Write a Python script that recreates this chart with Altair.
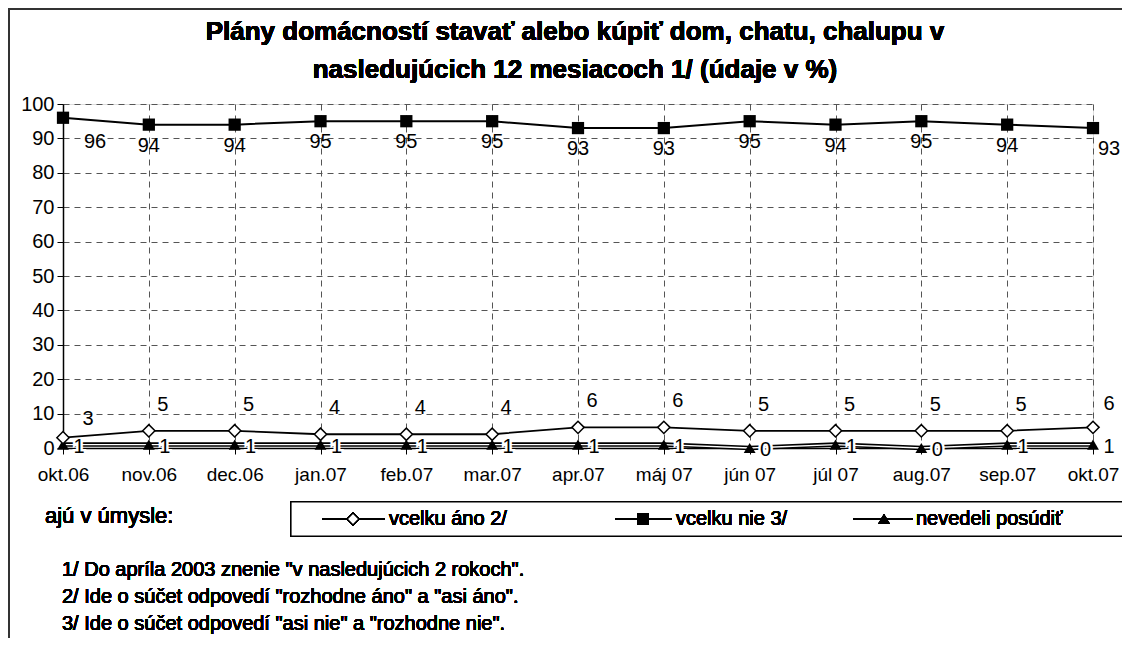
import altair as alt
import pandas as pd

months = ["okt.06", "nov.06", "dec.06", "jan.07", "feb.07", "mar.07", "apr.07",
          "máj 07", "jún 07", "júl 07", "aug.07", "sep.07", "okt.07"]
ano = [3, 5, 5, 4, 4, 4, 6, 6, 5, 5, 5, 5, 6]
nie = [96, 94, 94, 95, 95, 95, 93, 93, 95, 94, 95, 94, 93]
nevedeli = [1, 1, 1, 1, 1, 1, 1, 1, 0, 1, 0, 1, 1]

series_names = ["vcelku áno 2/", "vcelku nie 3/", "nevedeli posúdiť"]
title_lines = ["Plány domácností stavať alebo kúpiť dom, chatu, chalupu v",
               "nasledujúcich 12 mesiacoch 1/ (údaje v %)"]
notes = ["1/ Do apríla 2003 znenie \"v nasledujúcich 2 rokoch\".",
         "2/ Ide o súčet odpovedí \"rozhodne áno\" a \"asi áno\".",
         "3/ Ide o súčet odpovedí \"asi nie\" a \"rozhodne nie\"."]
cut_text = "ajú v úmysle:"

FONT = "Liberation Sans"
FS = 20
n = len(months)

df = pd.DataFrame({
    "m": months, "i": list(range(n)),
    "ano": ano, "nie": nie, "nev": nevedeli,
})

W, H = 1030, 344

x = alt.X("m:O", sort=months, scale=alt.Scale(type="point", padding=0),
          axis=alt.Axis(title=None, labelAngle=0, labelFontSize=19, labelFont=FONT,
                        labelColor="black", labelPadding=11, tickSize=6, tickColor="black",
                        domainColor="black", domainWidth=1.5, grid=True,
                        gridDash=[6, 5], gridColor="#555", gridWidth=1))

yaxis = alt.Axis(title=None, values=list(range(0, 101, 10)), labelFontSize=FS,
                 labelFont=FONT, labelColor="black", labelPadding=3, tickSize=6,
                 tickColor="black", domainColor="black", domainWidth=1.5,
                 grid=True, gridDash=[6, 5], gridColor="#555", gridWidth=1)

def yenc(field):
    return alt.Y(f"{field}:Q", scale=alt.Scale(domain=[0, 100], nice=False), axis=yaxis)

base = alt.Chart(df)

frame = base.mark_rect(filled=False, stroke="#333", strokeWidth=2).encode(
    x=alt.value(-54), x2=alt.value(1100), y=alt.value(-95), y2=alt.value(700))

# vcelku nie
nie_line = base.mark_line(color="black", strokeWidth=2).encode(x=x, y=yenc("nie"))
nie_pts = base.mark_point(shape="square", filled=True, color="black", size=150, opacity=1).encode(
    x=x, y=yenc("nie"))
nie_lab_mid = base.transform_filter("datum.i > 0 && datum.i < 12").mark_text(
    fontSize=FS, font=FONT, dy=21, fill="black").encode(x=x, y=yenc("nie"), text="nie:Q")
nie_lab_first = base.transform_filter("datum.i == 0").mark_text(
    fontSize=FS, font=FONT, dy=24, dx=32, fill="black").encode(x=x, y=yenc("nie"), text="nie:Q")
nie_lab_last = base.transform_filter("datum.i == 12").mark_text(
    fontSize=FS, font=FONT, dy=21, dx=16, fill="black").encode(x=x, y=yenc("nie"), text="nie:Q")

# nevedeli (double line look)
nev_line = base.mark_line(color="black", strokeWidth=4.5).encode(x=x, y=yenc("nev"))
nev_line_in = base.mark_line(color="white", strokeWidth=1.3).encode(x=x, y=yenc("nev"))
nev_halo = base.mark_text(fontSize=FS, font=FONT, dx=16, dy=2, stroke="white", strokeWidth=5,
                          fill="white").encode(x=x, y=yenc("nev"), text="nev:Q")
nev_lab = base.mark_text(fontSize=FS, font=FONT, dx=16, dy=2, fill="black").encode(
    x=x, y=yenc("nev"), text="nev:Q")
nev_pts = base.mark_point(shape="triangle-up", filled=True, color="black", size=140, opacity=1).encode(
    x=x, y=yenc("nev"))

# vcelku áno
ano_line = base.mark_line(color="black", strokeWidth=1.8).encode(x=x, y=yenc("ano"))
ano_pts = base.mark_point(shape="diamond", filled=True, fill="white", stroke="black",
                          strokeWidth=1.5, size=150, opacity=1).encode(x=x, y=yenc("ano"))
ano_lab_mid = base.transform_filter("datum.i > 0 && datum.i < 12").mark_text(
    fontSize=FS, font=FONT, dx=14, dy=-26, fill="black").encode(x=x, y=yenc("ano"), text="ano:Q")
ano_lab_first = base.transform_filter("datum.i == 0").mark_text(
    fontSize=FS, font=FONT, dx=25, dy=-19, fill="black").encode(x=x, y=yenc("ano"), text="ano:Q")
ano_lab_last = base.transform_filter("datum.i == 12").mark_text(
    fontSize=FS, font=FONT, dx=16, dy=-23, fill="black").encode(x=x, y=yenc("ano"), text="ano:Q")

# title
title_layers = [
    base.mark_text(fontSize=26, font=FONT, fontWeight="bold", fill="black").encode(
        x=alt.value(512), y=alt.value(yy), text=alt.value(t))
    for t, yy in zip(title_lines, [-72, -34])
]

# legend (manual, Excel style)
LY = 415
legend_box = base.mark_rect(fill="white", stroke="black", strokeWidth=1.2).encode(
    x=alt.value(228), x2=alt.value(1080), y=alt.value(398), y2=alt.value(432))
legend_layers = [legend_box]
specs = [
    (259, 322, 290, 326, "diamond", series_names[0]),
    (552, 609, 580, 613, "square", series_names[1]),
    (790, 850, 821, 853, "triangle-up", series_names[2]),
]
for x1, x2, xm, xt, shp, name in specs:
    legend_layers.append(base.mark_rule(color="black", strokeWidth=1.8).encode(
        x=alt.value(x1), x2=alt.value(x2), y=alt.value(LY)))
    if shp == "diamond":
        legend_layers.append(base.mark_point(shape=shp, filled=True, fill="white", stroke="black",
                                             strokeWidth=1.5, size=140, opacity=1).encode(
            x=alt.value(xm), y=alt.value(LY)))
    else:
        legend_layers.append(base.mark_point(shape=shp, filled=True, color="black", size=140,
                                             opacity=1).encode(x=alt.value(xm), y=alt.value(LY)))
    legend_layers.append(base.mark_text(fontSize=FS, font=FONT, align="left", fill="black").encode(
        x=alt.value(xt), y=alt.value(LY), text=alt.value(name)))

cut = base.mark_text(fontSize=22, font=FONT, align="left", fill="black").encode(
    x=alt.value(-18), y=alt.value(412), text=alt.value(cut_text))

note_layers = [
    base.mark_text(fontSize=20, font=FONT, align="left", fill="black").encode(
        x=alt.value(-1), y=alt.value(yy), text=alt.value(t))
    for t, yy in zip(notes, [466, 493, 520])
]

chart = alt.layer(
    frame,
    nie_line, nie_pts, nie_lab_mid, nie_lab_first, nie_lab_last,
    nev_line, nev_line_in, nev_halo, nev_lab, nev_pts,
    ano_line, ano_pts, ano_lab_mid, ano_lab_first, ano_lab_last,
    *title_layers, *legend_layers, cut, *note_layers,
).properties(
    width=W, height=H,
    padding={"left": 55, "top": 96, "right": 29, "bottom": 190},
    autosize=alt.AutoSizeParams(type="none"),
).configure_view(stroke="black", strokeWidth=1.5).configure(background="white")

chart.save("out.html", embed_options={"renderer": "svg", "actions": False})
